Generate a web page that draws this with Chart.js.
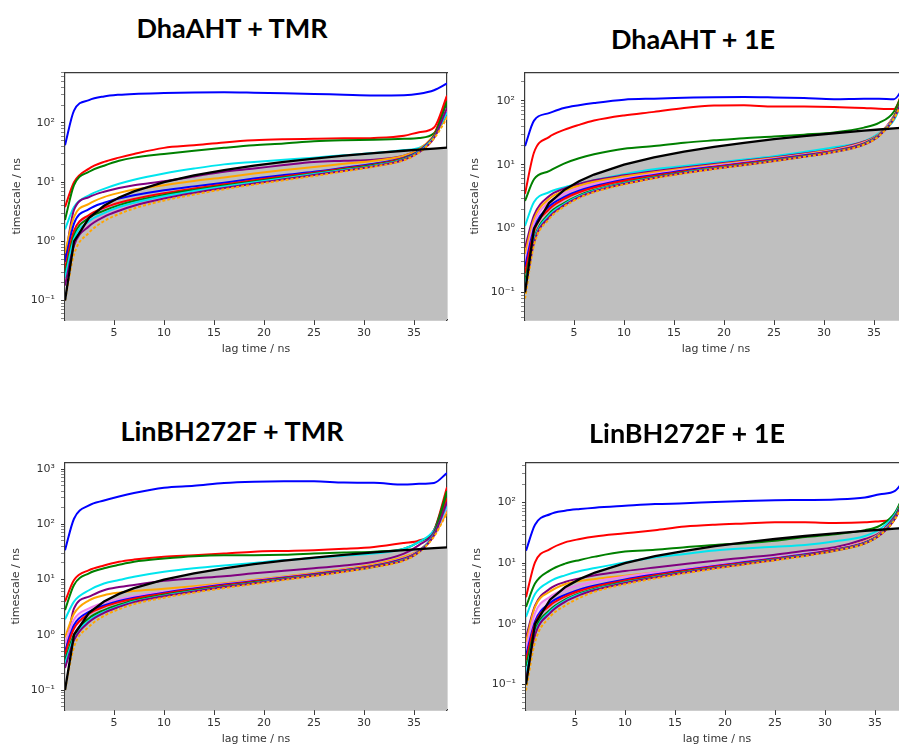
<!DOCTYPE html>
<html><head><meta charset="utf-8">
<script src="https://cdn.jsdelivr.net/npm/chart.js@4.4.0/dist/chart.umd.min.js"></script>
<style>
html,body{margin:0;padding:0;background:#fff;overflow:hidden;width:899px;height:746px;position:relative}
.panel{position:absolute}
.title{position:absolute;transform:translate(-50%,-50%);font-family:Lato,'Open Sans',sans-serif;font-weight:700;font-size:27px;white-space:nowrap;color:#000}
</style></head><body>
<script>
// ---------- data ----------
const lagTimes = [0.1, 1, 2.5, 4, 5.5, 7, 10, 13, 16, 19, 22, 25, 28, 31, 34, 35.5, 37, 38.3];
const xTickValues = [5, 10, 15, 20, 25, 30, 35];
const yTickLabels = ['10\u207B\u00B2', '10\u207B\u00B9', '10\u2070', '10\u00B9', '10\u00B2', '10\u00B3'];
const yTickExps = [-2, -1, 0, 1, 2, 3];
const panelTitles = ['DhaAHT + TMR', 'DhaAHT + 1E', 'LinBH272F + TMR', 'LinBH272F + 1E'];
const seriesNames = ['blue', 'red', 'green', 'cyan', 'purple', 'orange', 'violet', 'blue2', 'red2', 'green2', 'cyan2', 'purple2', 'orange mean'];
const seriesColors = ['#0000ff', '#ff0000', '#008000', '#00e5ee', '#800080', '#ffa500', '#ee82ee', '#0000ff', '#ff0000', '#008000', '#00e5ee', '#800080', '#ffa500'];
const seriesDashed = [false, false, false, false, false, false, false, false, false, false, false, false, true];

const dhaTMR = [
  [42, 162, 244, 281, 300, 310, 320, 327, 330, 325, 318, 310, 300, 292, 295, 312, 358, 465],
  [3.8, 10, 17, 22, 26, 30, 38, 42, 47, 51, 53, 54, 55, 56, 61, 70, 84, 290],
  [2.3, 8.9, 15, 19, 23, 26, 30, 34, 38, 42, 45, 49, 51, 52, 54, 56, 67, 240],
  [1.6, 3.8, 6, 7.7, 9.4, 11, 14, 17, 20, 22, 24, 26, 28.5, 31, 35, 38, 57, 160],
  [0.5, 3.4, 5.6, 6.9, 8, 8.9, 10.4, 12.5, 15, 17, 19.5, 22, 23, 24, 28, 36, 57, 160],
  [0.63, 2.6, 4.3, 5.6, 6.6, 7.5, 8.9, 10.5, 12, 14, 16, 18, 20.5, 23, 28, 36, 62, 130],
  [0.3, 1.4, 2.7, 3.6, 4.4, 5.1, 6.4, 7.7, 9.1, 10.7, 12.4, 14.4, 16.9, 20, 25.5, 33, 60, 170],
  [0.45, 2.0, 3.5, 4.5, 5.3, 6.0, 7.3, 8.5, 9.8, 11.5, 13.2, 15, 17.5, 20.5, 26, 34, 60, 150],
  [0.35, 1.5, 2.8, 3.7, 4.5, 5.2, 6.5, 7.8, 9.2, 10.8, 12.5, 14.5, 17, 20, 25.5, 33, 62, 280],
  [0.28, 1.25, 2.5, 3.3, 4.1, 4.8, 6.1, 7.4, 8.8, 10.3, 12, 14, 16.5, 19.5, 25, 33, 60, 230],
  [0.24, 1.1, 2.2, 3.0, 3.8, 4.5, 5.8, 7.1, 8.5, 10, 11.7, 13.7, 16, 19, 24.5, 32.5, 58, 150],
  [0.18, 0.85, 1.8, 2.6, 3.3, 4.0, 5.3, 6.6, 8.0, 9.5, 11.2, 13.2, 15.6, 18.6, 24, 32, 56, 180],
  [0.1, 0.6, 1.4, 2.2, 2.9, 3.6, 4.9, 6.2, 7.6, 9.1, 10.8, 12.7, 15.2, 18.3, 23.5, 31.5, 55, 120]
];
const dha1E = [
  [19.5, 49, 64, 77, 85, 92, 104, 108, 111, 114, 115, 113, 110, 106, 108, 108, 106, 210],
  [3.5, 15.5, 27, 35, 42, 49, 59, 67, 77, 84, 85, 81, 81, 80, 77, 75, 74, 250],
  [2.7, 5.9, 7.9, 10.4, 12.6, 14.5, 17.8, 19.6, 22, 24, 26, 27.5, 29.5, 32, 38, 45, 68, 200],
  [1.1, 2.6, 3.7, 4.4, 5.0, 5.7, 7.1, 8.5, 9.5, 10.7, 12, 13.6, 15.8, 18.7, 23, 31, 50, 150],
  [0.5, 1.6, 3.2, 4.2, 5.0, 5.7, 6.8, 7.9, 9, 10.2, 11.5, 13, 15, 17.5, 23, 30, 58, 160],
  [0.4, 1.4, 2.9, 3.9, 4.7, 5.4, 6.5, 7.6, 8.7, 9.9, 11.2, 12.7, 14.6, 17.2, 22.5, 30, 57, 170],
  [0.3, 1.2, 2.6, 3.5, 4.3, 5.0, 6.1, 7.2, 8.4, 9.6, 10.9, 12.4, 14.3, 16.8, 22, 29.5, 56, 150],
  [0.25, 1.0, 2.2, 3.1, 3.9, 4.6, 5.8, 6.9, 8.1, 9.3, 10.6, 12.1, 14, 16.5, 21.5, 29, 55, 180],
  [0.2, 0.9, 2.0, 2.9, 3.7, 4.4, 5.6, 6.7, 7.9, 9.1, 10.4, 11.9, 13.8, 16.3, 21.3, 29, 56, 200],
  [0.15, 0.7, 1.7, 2.5, 3.3, 4.0, 5.2, 6.4, 7.6, 8.8, 10.1, 11.6, 13.5, 16, 21, 28.5, 55, 190],
  [0.12, 0.65, 1.6, 2.4, 3.2, 3.9, 5.1, 6.3, 7.5, 8.7, 10, 11.5, 13.4, 15.9, 20.8, 28.5, 54, 150],
  [0.1, 0.6, 1.5, 2.3, 3.1, 3.8, 5.0, 6.2, 7.4, 8.6, 9.9, 11.4, 13.3, 15.8, 20.6, 28.2, 53, 160],
  [0.08, 0.55, 1.4, 2.2, 3.0, 3.7, 4.9, 6.1, 7.3, 8.5, 9.8, 11.3, 13.2, 15.7, 20.5, 28, 53, 140]
];
const linTMR = [
  [34, 126, 220, 270, 320, 370, 460, 500, 560, 590, 600, 600, 570, 565, 525, 540, 560, 850],
  [4, 9.8, 14.8, 18, 21, 23, 26, 27.5, 29.5, 32, 33, 34, 36, 39, 46, 51, 78, 470],
  [2.8, 8, 13, 16, 18.5, 21, 24, 26.5, 27.5, 27.5, 28, 29.5, 31, 32, 36, 48, 78, 400],
  [1.9, 4, 6.4, 8.5, 9.8, 11.2, 13.8, 16, 18, 20, 22.5, 24.5, 27, 29.5, 36, 48, 78, 235],
  [0.4, 3, 4.9, 6.4, 7.3, 8, 9.5, 10.5, 11.5, 13, 14.4, 16, 18, 21, 29.5, 42, 73, 355],
  [0.9, 2.4, 4.2, 5.2, 5.8, 6.2, 6.8, 7.6, 8.6, 9.9, 11.4, 13.2, 15.5, 19, 26, 34, 62, 170],
  [0.7, 1.9, 3.0, 3.8, 4.4, 5.0, 6.0, 7.1, 8.3, 9.6, 11.1, 12.8, 15, 18, 24.5, 33, 62, 200],
  [0.5, 1.5, 2.6, 3.4, 4.1, 4.7, 5.8, 6.9, 8.1, 9.4, 10.9, 12.6, 14.8, 17.8, 24, 33, 65, 260],
  [0.45, 1.3, 2.4, 3.2, 3.9, 4.5, 5.6, 6.7, 7.9, 9.2, 10.7, 12.4, 14.6, 17.6, 23.5, 32.5, 66, 300],
  [0.35, 1.0, 2.0, 2.8, 3.5, 4.2, 5.3, 6.4, 7.6, 8.9, 10.4, 12.1, 14.3, 17.3, 23, 32, 68, 380],
  [0.3, 0.9, 1.8, 2.6, 3.3, 4.0, 5.1, 6.2, 7.4, 8.7, 10.2, 11.9, 14.1, 17.1, 22.8, 32, 66, 220],
  [0.25, 0.8, 1.7, 2.5, 3.2, 3.9, 5.0, 6.1, 7.3, 8.6, 10.1, 11.8, 14, 17, 22.5, 31.5, 64, 250],
  [0.1, 0.6, 1.4, 2.2, 2.9, 3.6, 4.7, 5.8, 7.0, 8.3, 9.8, 11.5, 13.7, 16.7, 22, 31, 60, 160]
];
const lin1E = [
  [16, 43, 64, 73, 78, 82, 88, 94, 97, 102, 106, 109, 110, 112, 121, 137, 155, 300],
  [2.75, 10.3, 17, 22, 25, 27.5, 31, 35, 40, 43, 45, 47, 47, 46, 47, 49, 56, 200],
  [1.9, 4.6, 7.6, 9.8, 11.3, 12.8, 15.5, 16.6, 18.3, 20, 21.3, 23.4, 27, 30, 35, 41.5, 68, 200],
  [1.3, 3.1, 5.0, 6.3, 7.4, 8.3, 10.3, 12.5, 14.2, 16.1, 17.5, 18.7, 20, 23, 28, 36.5, 64, 170],
  [0.6, 2.0, 3.8, 4.9, 5.6, 6.3, 7.4, 8.5, 9.7, 11, 12.3, 13.8, 16, 18.3, 25, 32, 60, 150],
  [0.5, 1.9, 3.4, 4.5, 5.1, 5.5, 6.2, 7.0, 8.0, 9.2, 10.6, 12.2, 14.2, 17, 23, 31, 56, 140],
  [0.4, 1.5, 2.8, 3.7, 4.4, 5.0, 6.0, 7.0, 8.1, 9.3, 10.7, 12.3, 14.3, 17.1, 22.5, 30.5, 55, 150],
  [0.3, 1.1, 2.2, 3.0, 3.7, 4.3, 5.4, 6.5, 7.7, 9.0, 10.4, 12, 14, 16.8, 22, 30, 55, 180],
  [0.25, 1.0, 2.0, 2.8, 3.5, 4.1, 5.2, 6.3, 7.5, 8.8, 10.2, 11.8, 13.8, 16.6, 21.8, 30, 56, 220],
  [0.2, 0.8, 1.7, 2.5, 3.2, 3.8, 4.9, 6.0, 7.2, 8.5, 9.9, 11.5, 13.5, 16.3, 21.5, 29.5, 56, 200],
  [0.15, 0.7, 1.6, 2.4, 3.1, 3.7, 4.8, 5.9, 7.1, 8.4, 9.8, 11.4, 13.4, 16.2, 21.3, 29.5, 55, 160],
  [0.12, 0.65, 1.5, 2.3, 3.0, 3.6, 4.7, 5.8, 7.0, 8.3, 9.7, 11.3, 13.3, 16.1, 21.2, 29, 54, 170],
  [0.08, 0.5, 1.3, 2.0, 2.7, 3.4, 4.5, 5.6, 6.8, 8.1, 9.5, 11.1, 13.1, 15.9, 21, 29, 53, 150]
];
const panelSeries = [dhaTMR, dha1E, linTMR, lin1E];
const yRanges = [[0.047, 710], [0.037, 276], [0.0435, 1310], [0.038, 454]];

// ---------- layout (positions only) ----------
const panelBoxes = [
  {left: 0,   top: 60,  w: 460, h: 300, padL: 7,  padT: 12, padR: 13, yW: 58, xH: 40, tx: 232, ty: 27},
  {left: 450, top: 60,  w: 470, h: 300, padL: 15, padT: 11, padR: 13, yW: 60, xH: 40, tx: 693, ty: 38},
  {left: 0,   top: 450, w: 460, h: 300, padL: 6,  padT: 12, padR: 13, yW: 59, xH: 40, tx: 232, ty: 430},
  {left: 450, top: 450, w: 470, h: 300, padL: 17, padT: 12, padR: 12, yW: 59, xH: 40, tx: 687, ty: 432}
];

const axisColor = '#3a3a3a';
const textColor = '#333';
const axFont = {family: 'DejaVu Sans', size: 11};

function buildDatasets(series) {
  const n = series.length;
  const ds = [];
  // black lag-time line: first dataset = drawn on top
  ds.push({
    label: 'lag time', data: lagTimes.map(x => ({x: x, y: x})),
    borderColor: '#000', borderWidth: 2.3, pointRadius: 0, fill: false
  });
  // colored processes: earlier series drawn below later ones
  const idxOf = i => 1 + (n - 1 - i);
  for (let i = n - 1; i >= 0; i--) {
    const d = {
      label: seriesNames[i],
      data: lagTimes.map((x, j) => ({x: x, y: series[i][j]})),
      borderColor: seriesColors[i], borderWidth: 2, pointRadius: 0,
      cubicInterpolationMode: 'monotone', fill: false
    };
    if (seriesDashed[i]) d.borderDash = [3, 2];
    if (seriesNames[i] === 'violet') {
      d.fill = {target: idxOf(11)};
      d.backgroundColor = 'rgba(238,130,238,0.35)';
    }
    ds.push(d);
  }
  // grey region below the lag-time line: last dataset = drawn first
  ds.push({
    label: 'lag region', data: lagTimes.map(x => ({x: x, y: x})),
    borderWidth: 0, borderColor: 'rgba(0,0,0,0)', pointRadius: 0,
    fill: 'start', backgroundColor: '#bfbfbf'
  });
  return ds;
}

panelBoxes.forEach((b, p) => {
  const div = document.createElement('div');
  div.className = 'panel';
  div.style.left = b.left + 'px'; div.style.top = b.top + 'px';
  div.style.width = b.w + 'px'; div.style.height = b.h + 'px';
  const cv = document.createElement('canvas');
  div.appendChild(cv);
  document.body.appendChild(div);

  const t = document.createElement('div');
  t.className = 'title';
  t.textContent = panelTitles[p];
  t.style.left = b.tx + 'px'; t.style.top = b.ty + 'px';
  document.body.appendChild(t);

  const [ymin, ymax] = yRanges[p];
  new Chart(cv, {
    type: 'line',
    data: {datasets: buildDatasets(panelSeries[p])},
    options: {
      responsive: true, maintainAspectRatio: false, animation: false,
      layout: {padding: {left: b.padL, top: b.padT, right: b.padR, bottom: 0}},
      plugins: {legend: {display: false}, tooltip: {enabled: false}, title: {display: false}},
      scales: {
        x: {
          type: 'linear', position: 'bottom', min: lagTimes[0], max: lagTimes[lagTimes.length - 1],
          afterBuildTicks: s => { s.ticks = xTickValues.map(v => ({value: v})); },
          afterFit: s => { s.height = b.xH; },
          ticks: {autoSkip: false, maxRotation: 0, padding: 2, color: textColor, font: axFont},
          grid: {drawOnChartArea: false, drawTicks: true, tickLength: 5, color: axisColor},
          border: {color: axisColor, width: 1.2},
          title: {display: true, text: 'lag time / ns', color: textColor, font: axFont, padding: {top: 0, bottom: 4}}
        },
        xTop: {
          type: 'linear', position: 'top', min: 0, max: 1,
          afterFit: s => { s.height = 0; },
          ticks: {display: false}, grid: {drawOnChartArea: false, drawTicks: false},
          border: {color: axisColor, width: 1.2}
        },
        y: {
          type: 'logarithmic', position: 'left', min: ymin, max: ymax,
          afterBuildTicks: s => {
            const ticks = [];
            yTickExps.forEach((e, di) => {
              for (let k = 1; k <= 9; k++) {
                const v = k * Math.pow(10, e);
                if (v >= ymin && v <= ymax) ticks.push({value: v, dec: k === 1 ? di : undefined});
              }
            });
            s.ticks = ticks;
          },
          afterFit: s => { s.width = b.yW; },
          ticks: {
            autoSkip: false, padding: 6, color: textColor, font: axFont,
            callback: (v, i, ticks) => (ticks[i].dec !== undefined ? yTickLabels[ticks[i].dec] : '')
          },
          grid: {
            drawOnChartArea: false, drawTicks: true, tickLength: 4,
            tickColor: ctx => (ctx.tick && ctx.tick.dec !== undefined ? axisColor : '#888')
          },
          border: {color: axisColor, width: 1.2},
          title: {display: true, text: 'timescale / ns', color: textColor, font: axFont, padding: {top: 4, bottom: 0}}
        },
        yRight: {
          type: 'linear', position: 'right', min: 0, max: 1,
          afterFit: s => { s.width = 0; },
          ticks: {display: false}, grid: {drawOnChartArea: false, drawTicks: false},
          border: {color: axisColor, width: 1.2}
        }
      }
    }
  });
});
</script>
</body></html>
